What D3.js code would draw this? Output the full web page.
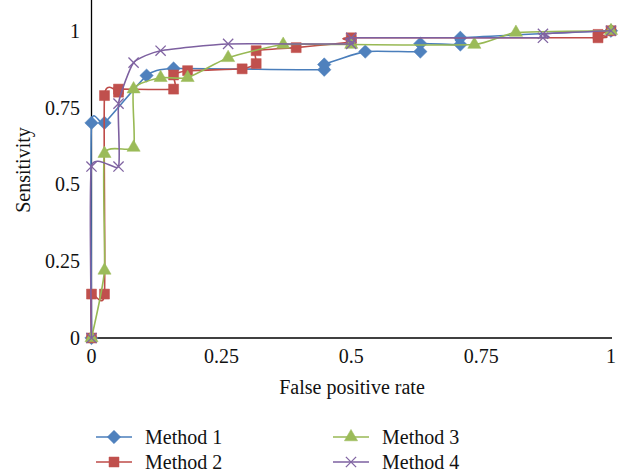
<!DOCTYPE html>
<html lang="en">
	<head>
		<meta charset="utf-8">
		<title>ROC curves of four methods</title>
		<script type="text/javascript" src="https://cdn.jsdelivr.net/npm/d3@7"></script>
		<style type="text/css">
			body { margin: 0; background: #fff; }
			svg text { font-family: "Liberation Serif", "DejaVu Serif", serif; fill: #111; }
		</style>
	</head>
	<body>
		<script type="text/javascript">

			//Width and height
			var w = 632;
			var h = 475;

			//Series names and tick labels
			var seriesNames = ["Method 1", "Method 2", "Method 3", "Method 4"];
			var xTicks = [0, 0.25, 0.5, 0.75, 1];
			var yTicks = [0, 0.25, 0.5, 0.75, 1];

			//Method 1 (false positive rate, sensitivity)
			var fpr1  = [0, 0,    0.025, 0.106, 0.158, 0.448, 0.448, 0.527, 0.633, 0.633, 0.71,  0.71,  1];
			var sens1 = [0, 0.70, 0.70,  0.854, 0.877, 0.873, 0.89,  0.932, 0.932, 0.958, 0.955, 0.977, 1];

			//Method 2
			var fpr2  = [0, 0,     0.025, 0.025, 0.052, 0.052, 0.158, 0.158, 0.185, 0.29,  0.317, 0.317, 0.394, 0.5,   0.5,   0.975, 0.975, 1];
			var sens2 = [0, 0.143, 0.143, 0.789, 0.80,  0.81,  0.81,  0.856, 0.87,  0.876, 0.893, 0.935, 0.945, 0.964, 0.977, 0.977, 0.988, 1];

			//Method 3
			var fpr3  = [0, 0.025, 0.025, 0.081, 0.081, 0.133, 0.185, 0.263, 0.369, 0.5,   0.737, 0.817, 1];
			var sens3 = [0, 0.22,  0.60,  0.62,  0.81,  0.847, 0.847, 0.912, 0.955, 0.955, 0.955, 0.994, 1];

			//Method 4
			var fpr4  = [0, 0,     0.052, 0.052, 0.081, 0.133, 0.263, 0.5,   0.5,   0.869, 0.869, 1];
			var sens4 = [0, 0.558, 0.558, 0.763, 0.896, 0.935, 0.957, 0.957, 0.977, 0.977, 0.99,  1];

			var lineColors = ["#4a7ebb", "#be4b48", "#98b954", "#7d60a0"];
			var markColors = ["#4f81bd", "#c0504d", "#9bbb59", "#8064a2"];

			//Square diamond (d3's own diamond is too narrow)
			var squareDiamond = {
				draw: function(ctx, size) {
					var r = Math.sqrt(size / 2);
					ctx.moveTo(0, -r);
					ctx.lineTo(r, 0);
					ctx.lineTo(0, r);
					ctx.lineTo(-r, 0);
					ctx.closePath();
				}
			};
			var symbols = [squareDiamond, d3.symbolSquare, d3.symbolTriangle, d3.symbolTimes];
			var symSizes = [90, 100, 75, 70];

			//Build point lists from the arrays
			var allX = [fpr1, fpr2, fpr3, fpr4];
			var allY = [sens1, sens2, sens3, sens4];
			var series = seriesNames.map(function(name, i) {
				return {
					name: name,
					points: allX[i].map(function(x, j) { return { x: x, y: allY[i][j] }; })
				};
			});

			//Create scales
			var xScale = d3.scaleLinear()
							.domain([0, 1])
							.range([91.5, 611]);

			var yScale = d3.scaleLinear()
							.domain([0, 1.1])
							.range([338, 0]);

			//Create SVG space
			var svg = d3.select("body")
						.append("svg")
						.attr("width", w)
						.attr("height", h);

			//Axes (lines only)
			svg.append("line")
			   .attr("x1", xScale(0)).attr("x2", xScale(0))
			   .attr("y1", yScale(1.1)).attr("y2", yScale(0))
			   .attr("stroke", "#000").attr("stroke-width", 1.3);
			svg.append("line")
			   .attr("x1", xScale(0) - 3).attr("x2", xScale(1) + 1)
			   .attr("y1", yScale(0)).attr("y2", yScale(0))
			   .attr("stroke", "#000").attr("stroke-width", 1.3);

			svg.selectAll(".ytick")
			   .data(yTicks)
			   .enter()
			   .append("text")
			   .attr("class", "ytick")
			   .attr("x", 80)
			   .attr("y", function(d) { return yScale(d); })
			   .attr("dy", "0.35em")
			   .attr("text-anchor", "end")
			   .attr("font-size", "20px")
			   .text(function(d) { return d; });

			svg.selectAll(".xtick")
			   .data(xTicks)
			   .enter()
			   .append("text")
			   .attr("class", "xtick")
			   .attr("x", function(d) { return xScale(d); })
			   .attr("y", 363)
			   .attr("text-anchor", "middle")
			   .attr("font-size", "20px")
			   .text(function(d) { return d; });

			svg.append("text")
			   .attr("x", 352)
			   .attr("y", 394)
			   .attr("text-anchor", "middle")
			   .attr("font-size", "20px")
			   .text("False positive rate");

			svg.append("text")
			   .attr("transform", "translate(30,170) rotate(-90)")
			   .attr("text-anchor", "middle")
			   .attr("font-size", "20px")
			   .text("Sensitivity");

			//Smoothed lines
			var line = d3.line()
						 .x(function(d) { return xScale(d.x); })
						 .y(function(d) { return yScale(d.y); })
						 .curve(d3.curveCardinal.tension(0.5));

			series.forEach(function(s, i) {
				var g = svg.append("g");
				g.append("path")
				 .attr("d", line(s.points))
				 .attr("fill", "none")
				 .attr("stroke", lineColors[i])
				 .attr("stroke-width", 1.6);

				g.selectAll("path.mark")
				 .data(s.points)
				 .enter()
				 .append("path")
				 .attr("class", "mark")
				 .attr("transform", function(d) {
					return "translate(" + xScale(d.x) + "," + yScale(d.y) + ")";
				 })
				 .attr("d", d3.symbol().type(symbols[i]).size(symSizes[i]))
				 .attr("fill", i == 3 ? "none" : markColors[i])
				 .attr("stroke", markColors[i])
				 .attr("stroke-width", i == 3 ? 1.3 : 0.5);
			});

			//Legend
			var legend = svg.selectAll(".legend")
							.data(seriesNames)
							.enter()
							.append("g")
							.attr("class", "legend")
							.attr("transform", function(d, i) {
								var lx = i < 2 ? 96 : 333;
								var ly = i % 2 == 0 ? 437 : 462;
								return "translate(" + lx + "," + ly + ")";
							});

			legend.append("line")
				  .attr("x1", 0).attr("x2", 36)
				  .attr("y1", 0).attr("y2", 0)
				  .attr("stroke", function(d, i) { return lineColors[i]; })
				  .attr("stroke-width", 1.6);

			legend.append("path")
				  .attr("transform", "translate(18,0)")
				  .attr("d", function(d, i) { return d3.symbol().type(symbols[i]).size(symSizes[i])(); })
				  .attr("fill", function(d, i) { return i == 3 ? "none" : markColors[i]; })
				  .attr("stroke", function(d, i) { return markColors[i]; })
				  .attr("stroke-width", function(d, i) { return i == 3 ? 1.3 : 0.5; });

			legend.append("text")
				  .attr("x", 49)
				  .attr("y", 0)
				  .attr("dy", "0.35em")
				  .attr("font-size", "20px")
				  .text(function(d) { return d; });

		</script>
	</body>
</html>
